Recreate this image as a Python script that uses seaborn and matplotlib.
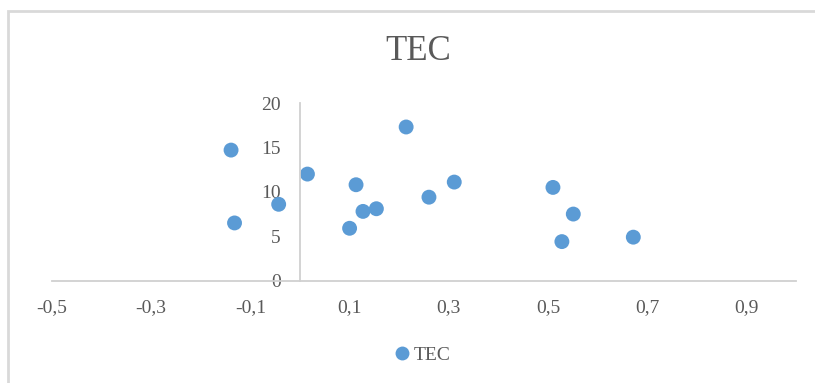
import matplotlib
matplotlib.use("Agg")
import matplotlib.pyplot as plt
import pandas as pd
import seaborn as sns
from matplotlib.patches import Rectangle

SERIES = "TEC"
X_VALUES = [-0.139, -0.132, -0.043, 0.015, 0.113, 0.100, 0.127, 0.154,
            0.214, 0.260, 0.311, 0.510, 0.551, 0.528, 0.672]
Y_VALUES = [14.7, 6.5, 8.6, 12.0, 10.8, 5.9, 7.8, 8.1,
            17.3, 9.4, 11.1, 10.5, 7.5, 4.4, 4.9]
X_TICKS = [-0.5, -0.3, -0.1, 0.1, 0.3, 0.5, 0.7, 0.9]
X_LABELS = ["-0,5", "-0,3", "-0,1", "0,1", "0,3", "0,5", "0,7", "0,9"]
Y_TICKS = [0, 5, 10, 15, 20]
Y_LABELS = ["0", "5", "10", "15", "20"]

BLUE = "#5B9BD5"
GRID = "#d0d0d0"
TEXT = "#595959"


def main():
    sns.set_theme(style="white")
    plt.rcParams["font.family"] = ["Liberation Serif", "DejaVu Serif"]

    df = pd.DataFrame({"x": X_VALUES, "y": Y_VALUES, "series": SERIES})

    fig = plt.figure(figsize=(8.15, 3.83), dpi=100)
    ax = fig.add_axes([52 / 815, 1 - 280.7 / 383, (796 - 52) / 815, (280.7 - 103) / 383])

    sns.scatterplot(data=df, x="x", y="y", hue="series", palette=[BLUE],
                    s=115, edgecolor="none", ax=ax, legend=False, clip_on=False)

    ax.set_xlim(-0.5, 1.0)
    ax.set_ylim(0, 20)
    ax.set_xticks(X_TICKS)
    ax.set_xticklabels(X_LABELS)
    ax.set_yticks(Y_TICKS)
    ax.set_yticklabels(Y_LABELS)
    ax.set_xlabel("")
    ax.set_ylabel("")
    ax.tick_params(axis="x", length=0, pad=13, labelsize=14, colors=TEXT)
    ax.tick_params(axis="y", length=0, pad=14, labelsize=14, colors=TEXT)

    for side in ["top", "right"]:
        ax.spines[side].set_visible(False)
    ax.spines["left"].set_position(("data", 0))
    ax.spines["bottom"].set_position(("data", 0))
    for side in ["left", "bottom"]:
        ax.spines[side].set_color(GRID)
        ax.spines[side].set_linewidth(1.3)
    ax.patch.set_alpha(0)

    fig.text(418 / 815, 1 - 52 / 383, SERIES, ha="center", va="center",
             fontsize=25, color=TEXT)

    handle = plt.Line2D([], [], marker="o", linestyle="none", color=BLUE,
                        markersize=10, markeredgewidth=0)
    fig.legend([handle], [SERIES], loc="center", bbox_to_anchor=(420 / 815, 1 - 355 / 383),
               frameon=False, fontsize=14, handletextpad=0.0, labelcolor=TEXT,
               handlelength=1.2)

    fig.patches.append(Rectangle((8 / 815, -0.1), 1.2, 1 - 11 / 383 + 0.1,
                                 transform=fig.transFigure, fill=False,
                                 edgecolor="#d9d9d9", linewidth=2))

    fig.savefig("out.png", dpi=100)
    plt.close(fig)


if __name__ == "__main__":
    main()
